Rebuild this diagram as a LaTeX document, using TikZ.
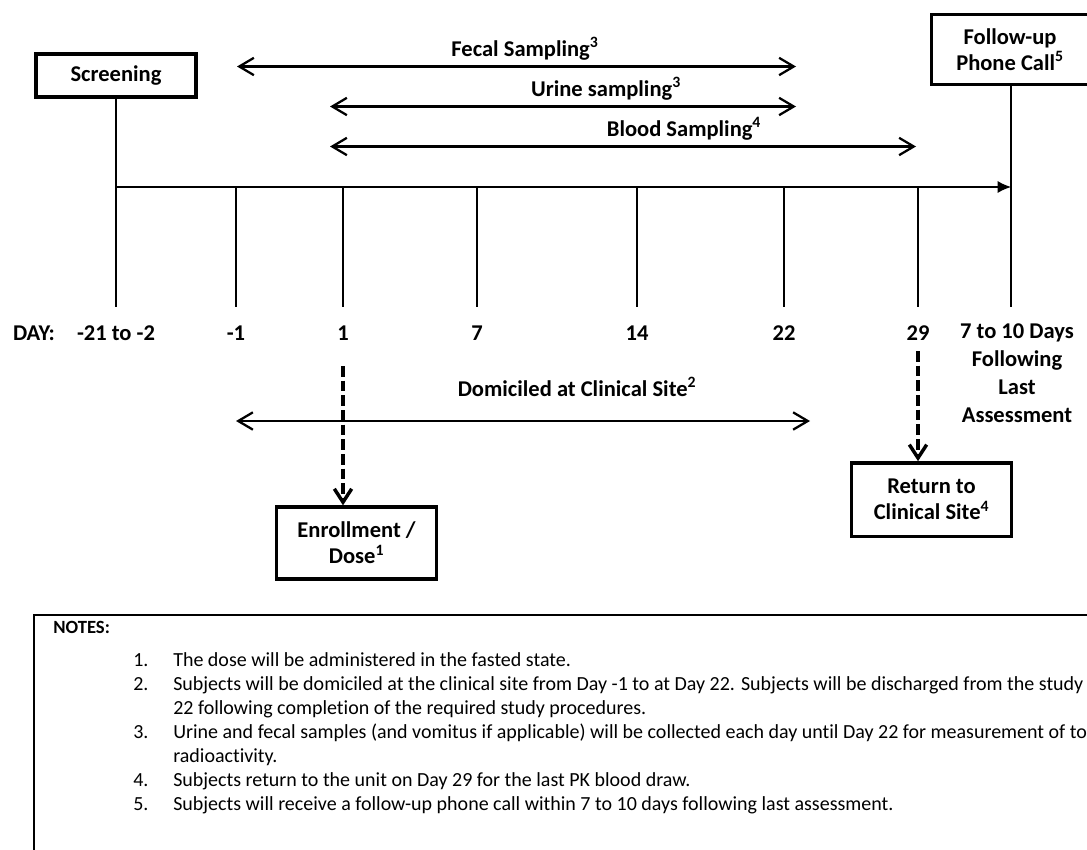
\documentclass[tikz,border=0pt]{standalone}
\usepackage{fontspec}
\setmainfont[Ligatures=NoCommon]{Carlito}
\usetikzlibrary{arrows.meta}

\begin{document}
\begin{tikzpicture}[x=0.75pt, y=-0.75pt,
    stage/.style={draw, line width=2.5pt, align=center, inner sep=0pt,
        font=\bfseries\fontsize{16.9}{19.5}\selectfont},
    daylabel/.style={font=\bfseries\fontsize{16.9}{21}\selectfont, inner sep=0pt, anchor=base},
    period/.style={{Straight Barb[length=11pt,width=13pt]}-{Straight Barb[length=11pt,width=13pt]}, line width=1.7pt},
    visit/.style={-{Straight Barb[length=10pt,width=13pt]}, line width=2.6pt, dash pattern=on 8pt off 3pt},
    axisline/.style={line width=1pt},
    notetext/.style={font=\fontsize{15}{18}\selectfont, inner sep=0pt, anchor=base west}]
    \useasboundingbox (0,0) rectangle (1087,849);
    \clip (0,0) rectangle (1087,849);

    % Define stage boxes
    \node[stage, minimum width=120pt, minimum height=32pt] (screen) at (116,75.5) {Screening};
    \node[stage, minimum width=118pt, minimum height=52pt] (call) at (1010,49.5) {Follow-up\\Phone Call\textsuperscript{5}};
    \node[stage, minimum width=120pt, minimum height=54pt] (dose) at (356.5,543) {Enrollment /\\Dose\textsuperscript{1}};
    \node[stage, minimum width=120pt, minimum height=55pt] (return) at (931.5,499.5) {Return to\\Clinical Site\textsuperscript{4}};

    % Define points of the time line
    \coordinate (start) at (116,187);
    \coordinate (end) at (1011,187);
    \foreach \x [count=\i] in {116,236,343,477,637,784,918,1011} {
        \coordinate (tick\i) at (\x,307);
    }

    % Draw time line and ticks
    \draw[axisline, -{Latex[length=10pt,width=9pt]}] (start) -- (end);
    \draw[axisline] (screen.south) -- (tick1);
    \draw[axisline] (call.south -| tick8) -- (tick8);
    \foreach \i in {2,...,7} {
        \draw[axisline] (tick\i |- start) -- (tick\i);
    }

    % Label days
    \node[daylabel] (daytitle) at (34,340) {DAY:};
    \foreach \x/\d [count=\i] in {116/-21 to -2, 236/-1, 343/1, 477/7, 637/14, 784/22, 918/29} {
        \node[daylabel] (day\i) at (\x,340) {\d};
    }
    \node[daylabel, anchor=north, align=center] (day8) at (1017,323) {7 to 10 Days\\Following\\Last\\Assessment};

    % Sampling periods
    \coordinate (fecalL) at (237,66.5);
    \coordinate (fecalR) at (796,66.5);
    \coordinate (urineL) at (330,106.5);
    \coordinate (urineR) at (796,106.5);
    \coordinate (bloodL) at (330,146.5);
    \coordinate (bloodR) at (916,146.5);
    \coordinate (homeL) at (236,421);
    \coordinate (homeR) at (810,421);
    \draw[period] (fecalL) -- (fecalR);
    \draw[period] (urineL) -- (urineR);
    \draw[period] (bloodL) -- (bloodR);
    \draw[period] (homeL) -- (homeR);
    \node[daylabel] (fecal) at (525,56) {Fecal Sampling\textsuperscript{3}};
    \node[daylabel] (urine) at (606,96) {Urine sampling\textsuperscript{3}};
    \node[daylabel] (blood) at (684,136) {Blood Sampling\textsuperscript{4}};
    \node[daylabel] (home) at (577,396) {Domiciled at Clinical Site\textsuperscript{2}};

    % Dashed visit arrows
    \coordinate (doseFrom) at (343,366);
    \coordinate (returnFrom) at (918,351);
    \draw[visit] (doseFrom) -- (doseFrom |- dose.north);
    \draw[visit] (returnFrom) -- (returnFrom |- return.north);

    % Notes
    \draw[axisline] (34,615) rectangle (1110,870);
    \node[notetext, font=\bfseries\fontsize{14}{18}\selectfont] (notes) at (53,633) {NOTES:};
    \foreach \y/\n/\t in {
        666/1./The dose will be administered in the fasted state.,
        690/2./Subjects will be domiciled at the clinical site from Day -1 to at Day 22.  Subjects will be discharged from the study,
        714//22 following completion of the required study procedures.,
        738/3./Urine and fecal samples (and vomitus if applicable) will be collected each day until Day 22 for measurement of to,
        762//radioactivity.,
        786/4./Subjects return to the unit on Day 29 for the last PK blood draw.,
        810/5./Subjects will receive a follow-up phone call within 7 to 10 days following last assessment.} {
        \node[notetext] (num\y) at (133,\y) {\n};
        \node[notetext] (note\y) at (173,\y) {\t};
    }
\end{tikzpicture}
\end{document}
